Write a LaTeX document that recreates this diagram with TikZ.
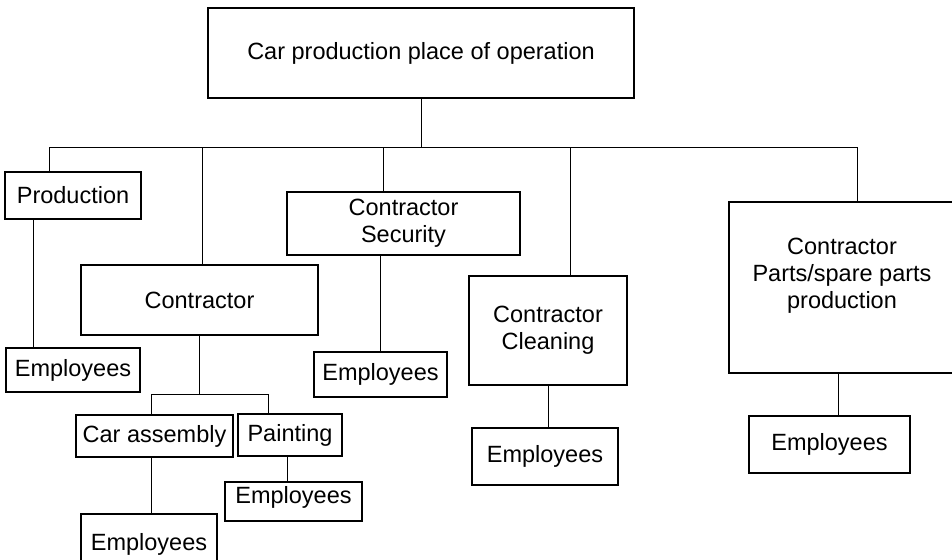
\documentclass[tikz,border=0pt]{standalone}
\usepackage{fontspec}
\setmainfont{Liberation Sans}
\tikzset{
  unit/.style={draw, line width=1.3pt, inner sep=0pt, align=center,
    font=\fontsize{23.5}{27}\selectfont},
  link/.style={line width=1pt}
}
\begin{document}
\begin{tikzpicture}[x=1pt,y=-1pt]
      \path[use as bounding box, clip] (0,0) rectangle (952,559);
      \node[unit, minimum width=426, minimum height=90] (plant) at (421,53) {Car production place of operation};
      \node[unit, minimum width=136, minimum height=47] (production) at (73,195.5) {Production};
      \node[unit, minimum width=237, minimum height=70] (contractor) at (199.5,300) {Contractor};
      \node[unit, minimum width=233, minimum height=63] (security) at (403.5,223.5) {Contractor\\Security};
      \node[unit, minimum width=158, minimum height=109] (cleaning) at (548,330.5) {Contractor\\Cleaning};
      \node[unit, minimum width=226, minimum height=171, text depth=29pt] (parts) at (842,287.5) {Contractor\\Parts/spare parts\\production};
      \node[unit, minimum width=157, minimum height=42] (assembly) at (154.5,436) {Car assembly};
      \node[unit, minimum width=104, minimum height=42] (painting) at (290,435) {Painting};
      \node[unit, minimum width=134, minimum height=44] (empProduction) at (73,370) {Employees};
      \node[unit, minimum width=133, minimum height=45] (empSecurity) at (380.5,374.5) {Employees};
      \node[unit, minimum width=146, minimum height=57] (empCleaning) at (545,456.5) {Employees};
      \node[unit, minimum width=161, minimum height=57] (empParts) at (829.5,444.5) {Employees};
      \node[unit, minimum width=136, minimum height=60] (empAssembly) at (149,544) {Employees};
      \node[unit, minimum width=137, minimum height=39, text depth=14pt] (empPainting) at (293.5,501.5) {Employees};
      \coordinate (busL) at (49,147);
      \coordinate (busR) at (857,147);
      \coordinate (dropContractor) at (202,147);
      \coordinate (dropSecurity) at (383,147);
      \coordinate (dropCleaning) at (570,147);
      \coordinate (subL) at (151,394);
      \coordinate (subR) at (268,394);
      \draw[link] (plant.south) -- (plant.south |- busL);
      \draw[link] (busL) -- (busR);
      \draw[link] (busL) -- (busL |- production.north);
      \draw[link] (dropContractor) -- (dropContractor |- contractor.north);
      \draw[link] (dropSecurity) -- (dropSecurity |- security.north);
      \draw[link] (dropCleaning) -- (dropCleaning |- cleaning.north);
      \draw[link] (busR) -- (busR |- parts.north);
      \draw[link] ([xshift=-40]production.south) -- ([xshift=-40]production.south |- empProduction.north);
      \draw[link] (contractor.south) -- (contractor.south |- subL);
      \draw[link] (subL) -- (subR);
      \draw[link] (subL) -- (subL |- assembly.north);
      \draw[link] (subR) -- (subR |- painting.north);
      \draw[link] (subL |- assembly.south) -- (subL |- empAssembly.north);
      \draw[link] ([xshift=-3]painting.south) -- ([xshift=-3]painting.south |- empPainting.north);
      \draw[link] (security.south -| empSecurity) -- (empSecurity.north);
      \draw[link] (cleaning.south) -- (cleaning.south |- empCleaning.north);
      \draw[link] ([xshift=-4]parts.south) -- ([xshift=-4]parts.south |- empParts.north);
\end{tikzpicture}
\end{document}
